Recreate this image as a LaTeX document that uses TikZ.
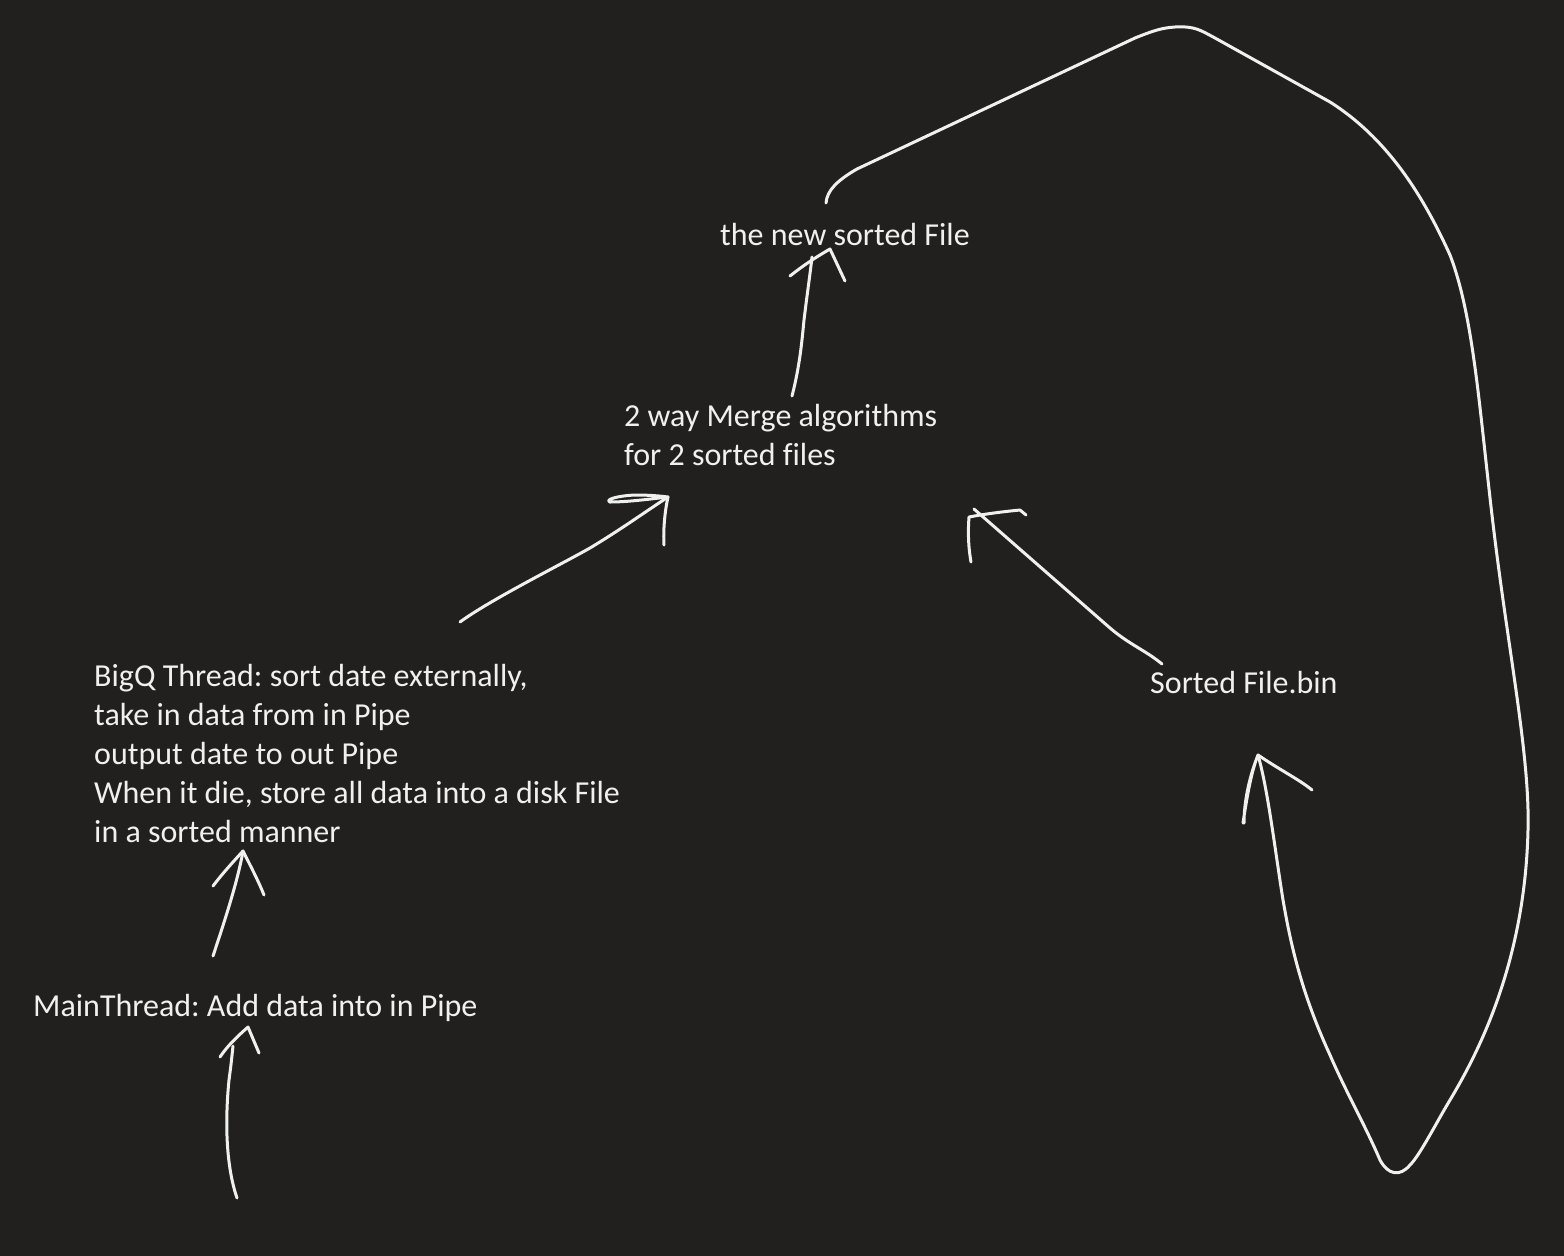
\documentclass[tikz,border=0pt]{standalone}
\usepackage{fontspec}
\setmainfont[Ligatures=NoCommon]{Carlito}
\definecolor{bgc}{RGB}{33,32,31}
\definecolor{ink}{RGB}{240,240,238}
\begin{document}
\frenchspacing
\begin{tikzpicture}[x=1pt,y=-1pt,
  lbl/.style={text=ink,inner sep=0pt,anchor=base west,align=left,font=\fontsize{32}{39}\selectfont},
  pen/.style={draw=ink,line width=3pt,line cap=round,line join=round}]
\fill[bgc] (0,0) rectangle (1564,1256);
\useasboundingbox (0,0) rectangle (1564,1256);

% base anchor of a multi-line node is the baseline of its last line
\node[lbl] (newfile) at (720,245) {the new sorted File};
\node[lbl] (merge) at (624,465) {2 way Merge algorithms\\for 2 sorted files};
\node[lbl] (bigq) at (94,842) {BigQ Thread: sort date externally,\\take in data from in Pipe\\output date to out Pipe\\When it die, store all data into a disk File\\in a sorted manner};
\node[lbl] (main) at (33,1016) {MainThread: Add data into in Pipe};
\node[lbl] (sorted) at (1150,693) {Sorted File.bin};

% arrow: bottom -> MainThread
\coordinate (m0) at (237,1198);
\coordinate (m1) at (233,1046);
\draw[pen] (m0) .. controls (224,1160) and (226,1110) .. (229,1080) .. controls (231,1065) .. (m1);
\draw[pen] (220,1057) .. controls (228,1045) and (238,1036) .. (248,1027) -- (259,1053);

% arrow: MainThread -> BigQ
\coordinate (b0) at (213,956);
\coordinate (b1) at (243,851);
\draw[pen] (b0) .. controls (225,920) and (238,880) .. (b1);
\draw[pen] (213,886) .. controls (222,874) and (233,862) .. (b1) .. controls (250,865) and (258,880) .. (264,895);

% arrow: BigQ -> Merge
\coordinate (g0) at (460,622);
\coordinate (g1) at (668,497);
\draw[pen] (g0) .. controls (490,600) and (560,565) .. (590,548) .. controls (620,530) and (645,512) .. (g1);
\draw[pen] (g1) .. controls (650,499) and (628,502) .. (610,502) .. controls (605,500) and (615,496) .. (635,495) .. controls (650,495) and (660,496) .. (g1);
\draw[pen] (g1) .. controls (665,510) and (663,530) .. (664,545);

% arrow: Sorted File.bin -> Merge
\coordinate (s0) at (1162,664);
\coordinate (s1) at (974,509);
\draw[pen] (s0) .. controls (1145,650) and (1130,645) .. (1110,628) -- (s1);
\draw[pen] (971,562) .. controls (968,545) and (968,530) .. (969,517) .. controls (985,514) and (1000,512) .. (1020,510) -- (1026,515);

% arrow: Merge -> new sorted File
\coordinate (n0) at (792,396);
\coordinate (n1) at (812,257);
\draw[pen] (n0) .. controls (800,365) and (802,340) .. (804,320) .. controls (807,295) and (810,275) .. (n1);
\draw[pen] (790,276) .. controls (805,264) and (818,256) .. (830,249) -- (845,281);

% big loop from new sorted File round to Sorted File.bin
\coordinate (l0) at (826,203);
\coordinate (l1) at (1258,755);
\draw[pen] (l0) .. controls (827,190) and (838,180) .. (857,169)
  -- (1135,38) .. controls (1155,30) and (1162,28) .. (1175,27)
  .. controls (1195,26) and (1200,30) .. (1215,38)
  -- (1330,102) .. controls (1390,140) and (1425,200) .. (1450,255)
  .. controls (1475,320) and (1480,420) .. (1495,540)
  .. controls (1510,660) and (1530,760) .. (1528,830)
  .. controls (1525,960) and (1480,1050) .. (1450,1100)
  .. controls (1435,1125) and (1420,1155) .. (1410,1165)
  .. controls (1400,1177) and (1388,1175) .. (1380,1160)
  .. controls (1365,1125) and (1345,1090) .. (1330,1055)
  .. controls (1300,990) and (1290,940) .. (1283,900)
  .. controls (1275,850) and (1268,790) .. (l1);
\draw[pen] (1244,823) .. controls (1244,800) and (1250,775) .. (l1) .. controls (1252,770) and (1248,790) .. (1243,823);
\draw[pen] (l1) .. controls (1280,770) and (1300,780) .. (1312,790);
\end{tikzpicture}
\end{document}
